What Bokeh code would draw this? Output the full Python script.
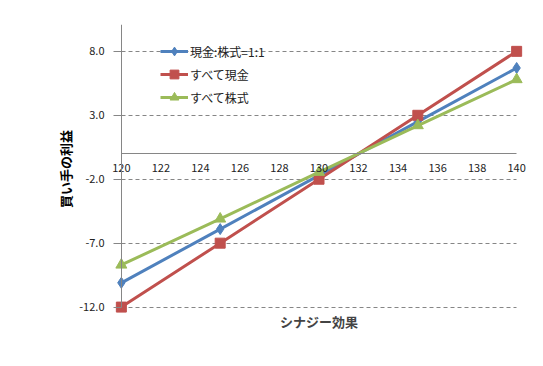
from bokeh.plotting import figure
from bokeh.models import FixedTicker, PrintfTickFormatter, Range1d, Title, Legend, LinearAxis
from bokeh.embed import file_html
from bokeh.resources import INLINE

# data
synergy = [120, 125, 130, 135, 140]
mix_11 = [-10.1, -5.9, -1.7, 2.5, 6.7]
all_cash = [-12.0, -7.0, -2.0, 3.0, 8.0]
all_stock = [-8.7, -5.1, -1.45, 2.2, 5.8]
series_names = ["現金:株式=1:1", "すべて現金", "すべて株式"]
x_ticks = [120, 122, 124, 126, 128, 130, 132, 134, 136, 138, 140]
y_ticks = [-12, -7, -2, 3, 8]

FONT = "Noto Sans CJK JP"
GRAY = "#868686"

p = figure(width=536, height=358, output_backend="svg", toolbar_location=None,
           frame_width=419, frame_height=289,
           x_range=Range1d(119.4, 140.6), y_range=Range1d(-12.5, 10.1),
           min_border_left=109, min_border_right=8, min_border_top=24, min_border_bottom=45)
p.outline_line_color = None
p.background_fill_color = "white"
p.border_fill_color = "white"

# x axis crossing at y = 0
xa = p.xaxis[0]
xa.fixed_location = 0
xa.bounds = (120, 140)
xa.ticker = FixedTicker(ticks=x_ticks)
xa.axis_line_color = GRAY
xa.major_tick_out = 0
xa.major_tick_in = 0
xa.minor_tick_out = 0
xa.minor_tick_in = 0
xa.major_label_standoff = 10
xa.major_label_text_font = FONT
xa.major_label_text_font_size = "11px"
xa.major_label_text_color = "#222222"

# y labels axis (left panel)
ya = p.yaxis[0]
ya.ticker = FixedTicker(ticks=y_ticks)
ya.formatter = PrintfTickFormatter(format="%.1f")
ya.axis_line_color = None
ya.major_tick_out = 0
ya.major_tick_in = 0
ya.minor_tick_out = 0
ya.minor_tick_in = 0
ya.major_label_standoff = 5
ya.major_label_text_font = FONT
ya.major_label_text_font_size = "11px"
ya.major_label_text_color = "#222222"
ya.axis_label = "買い手の利益"
ya.axis_label_text_font = FONT
ya.axis_label_text_font_size = "13px"
ya.axis_label_text_font_style = "bold"
ya.axis_label_text_color = "black"
ya.axis_label_standoff = 1

# y axis line at x = 120
yline = LinearAxis(fixed_location=120, bounds=(-12, 10.1), ticker=FixedTicker(ticks=y_ticks),
                   axis_line_color=GRAY, major_tick_out=8, major_tick_in=0,
                   major_tick_line_color=GRAY, minor_tick_out=0, minor_tick_in=0,
                   major_label_text_color=None, major_label_text_font_size="0px")
p.add_layout(yline, "left")

p.xgrid.visible = False
p.ygrid.ticker = FixedTicker(ticks=y_ticks)
p.ygrid.grid_line_color = GRAY
p.ygrid.grid_line_dash = "4 3"
p.ygrid.cross_bounds = (120, 140)

p.add_layout(Title(text="シナジー効果", align="center", text_font=FONT, standoff=-7,
                   text_font_size="13px", text_font_style="bold"), "below")

colors = ["#4F81BD", "#C0504D", "#9BBB59"]
markers = ["diamond", "square", "triangle"]
sizes = [11, 10, 11]
ys = [mix_11, all_cash, all_stock]
items = []
for name, yv, c, m, s in zip(series_names, ys, colors, markers, sizes):
    r1 = p.line(synergy, yv, line_color=c, line_width=3)
    r2 = p.scatter(synergy, yv, marker=m, size=s, fill_color=c, line_color=c)
    items.append((name, [r1, r2]))

legend = Legend(items=items, location=(51, 205), border_line_color=None,
                background_fill_alpha=0, padding=0, spacing=1,
                glyph_width=28, glyph_height=22, label_height=22,
                label_standoff=2, label_text_font=FONT, label_text_font_size="12px",
                label_text_color="#222222", margin=0)
p.add_layout(legend)

open("out.html", "w").write(file_html(p, INLINE))
